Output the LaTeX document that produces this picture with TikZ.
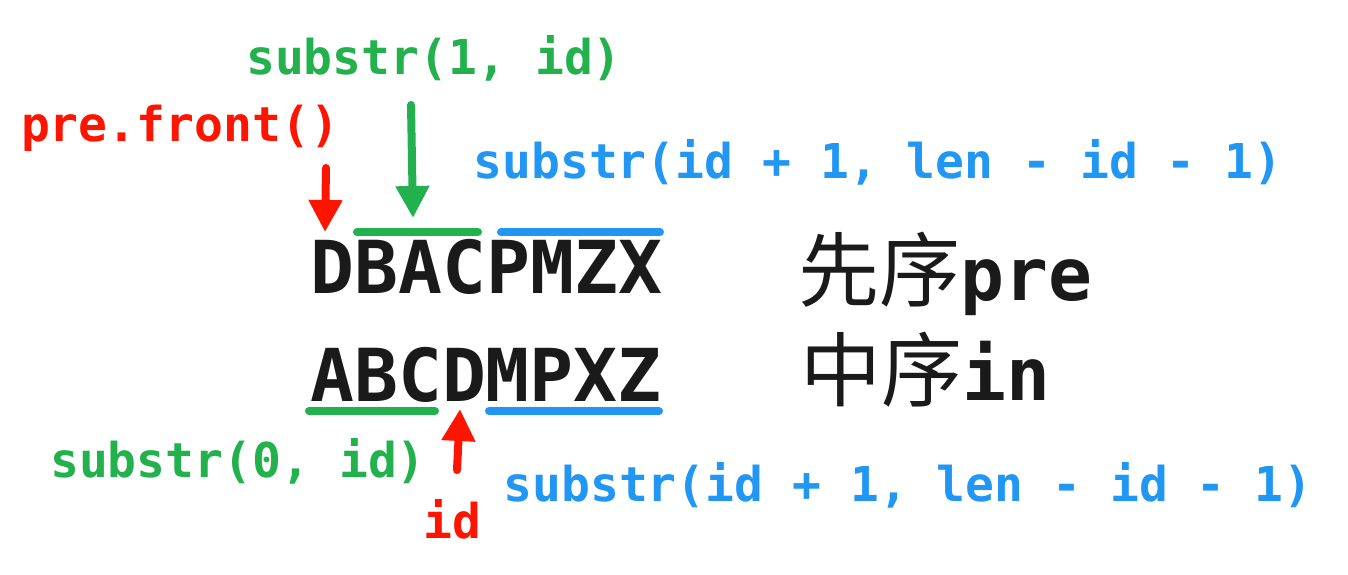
\documentclass[tikz,border=0pt]{standalone}
\usepackage{fontspec}
\usetikzlibrary{arrows.meta}
\newfontfamily\codefont{DejaVu Sans Mono}
\newfontfamily\cnfont{Noto Sans CJK SC}
\definecolor{cred}{RGB}{255,20,0}
\definecolor{cgreen}{RGB}{34,177,76}
\definecolor{cblue}{RGB}{33,150,243}
\definecolor{cblack}{RGB}{26,26,26}
\tikzset{
  lbl/.style={inner sep=0pt, anchor=base, font=\codefont\bfseries\fontsize{48}{50}\selectfont},
  big/.style={inner sep=0pt, anchor=base, text=cblack, font=\codefont\bfseries\fontsize{73}{75}\selectfont},
  side/.style={inner sep=0pt, anchor=base west, text=cblack},
  bar/.style={line width=8pt, line cap=round},
  arr/.style={line width=8pt, line cap=round, -{Triangle[width=32pt,length=32pt]}}
}
\begin{document}
\begin{tikzpicture}[x=1pt,y=-1pt]
\useasboundingbox (0,0) rectangle (1348,574);
% labels
\node[lbl, text=cgreen] (s1) at (434,74) {substr(1, id)};
\node[lbl, text=cred] (pf) at (180,141) {pre.front()};
\node[lbl, text=cblue] (b1) at (878,178) {substr(id + 1, len - id - 1)};
\node[lbl, text=cgreen] (s0) at (238,477) {substr(0, id)};
\node[lbl, text=cblue] (b2) at (908,501) {substr(id + 1, len - id - 1)};
\node[lbl, text=cred] (idl) at (452,538) {id};
% main strings
\node[big] (pre) at (486.5,293) {DBACPMZX};
\node[big] (in) at (486,401) {ABCDMPXZ};
\node[side] (prel) at (798,300) {{\cnfont\fontsize{81}{83}\selectfont 先序}{\codefont\bfseries\fontsize{73}{75}\selectfont pre}};
\node[side] (inl) at (800,400) {{\cnfont\fontsize{81}{83}\selectfont 中序}{\codefont\bfseries\fontsize{73}{75}\selectfont in}};
% bars
\coordinate (g1a) at (357,232); \coordinate (g1b) at (478,232);
\coordinate (u1a) at (501,232); \coordinate (u1b) at (660,232);
\coordinate (g2a) at (309,411); \coordinate (g2b) at (435,411);
\coordinate (u2a) at (489,411); \coordinate (u2b) at (659,411);
\draw[bar, cgreen] (g1a) -- (g1b);
\draw[bar, cblue] (u1a) -- (u1b);
\draw[bar, cgreen] (g2a) -- (g2b);
\draw[bar, cblue] (u2a) -- (u2b);
% arrows
\coordinate (ra) at (326,168); \coordinate (rb) at (325,232);
\coordinate (ga) at (411,105); \coordinate (gb) at (413,218);
\coordinate (ia) at (457,470); \coordinate (ib) at (460,409);
\draw[arr, cred] (ra) -- (rb);
\draw[arr, cgreen] (ga) -- (gb);
\draw[arr, cred] (ia) -- (ib);
\end{tikzpicture}
\end{document}
